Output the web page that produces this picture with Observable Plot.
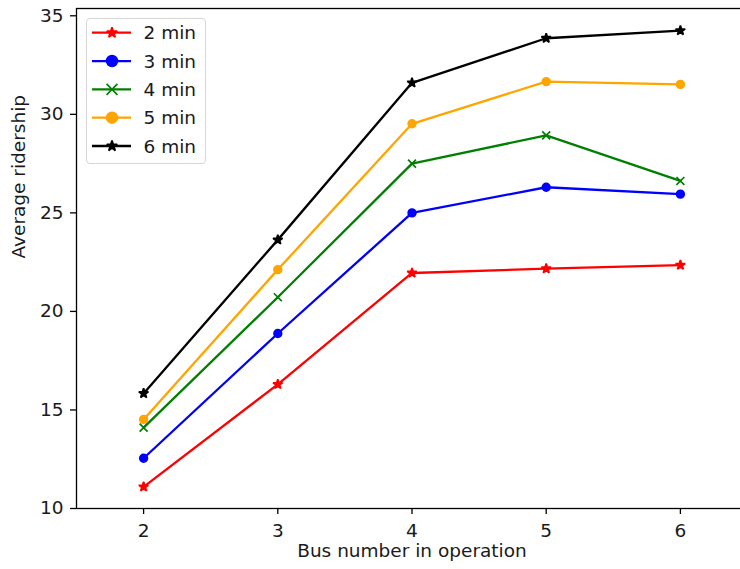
<!DOCTYPE html>
<html>
<head>
<meta charset="utf-8">
<script src="https://cdn.jsdelivr.net/npm/d3@7"></script>
<script src="https://cdn.jsdelivr.net/npm/@observablehq/plot@0.6"></script>
<style>
  html, body { margin: 0; padding: 0; background: #fff; overflow: hidden; }
  #wrap { position: relative; width: 740px; height: 569px; overflow: hidden; font-family: "DejaVu Sans", sans-serif; }
  #chart { width: 760px; }
  #chart svg { max-width: none !important; width: 760px; height: 569px; display: block; }
  #legend { position: absolute; left: 86px; top: 18px; width: 120px; height: 146px; border: 1px solid #d6d6d6; border-radius: 4px; background: rgba(255,255,255,0.8); box-sizing: border-box; }
  #legend svg { position: absolute; left: -1px; top: -1px; }
</style>
</head>
<body>
<div id="wrap"><div id="chart"></div><div id="legend"></div></div>
<script>
// ---- data ----
const buses = [2, 3, 4, 5, 6];
const seriesNames = ["2 min", "3 min", "4 min", "5 min", "6 min"];
const ridership2 = [11.1, 16.3, 21.95, 22.17, 22.35];
const ridership3 = [12.55, 18.88, 25.0, 26.3, 25.95];
const ridership4 = [14.1, 20.72, 27.5, 28.93, 26.62];
const ridership5 = [14.52, 22.12, 29.52, 31.66, 31.52];
const ridership6 = [15.84, 23.63, 31.6, 33.86, 34.25];
const seriesColors = ["red", "blue", "green", "orange", "black"];
const seriesSymbols = ["star", "circle", "times", "circle", "star"];
const xTicks = [2, 3, 4, 5, 6];
const yTicks = [10, 15, 20, 25, 30, 35];
const xLabel = "Bus number in operation";
const yLabel = "Average ridership";

// ---- build table ----
const allSeries = [ridership2, ridership3, ridership4, ridership5, ridership6];
const rows = [];
allSeries.forEach((vals, i) => {
  vals.forEach((v, j) => rows.push({ bus: buses[j], ridership: v, series: seriesNames[i] }));
});
const symbolOf = new Map(seriesNames.map((s, i) => [s, seriesSymbols[i]]));
const radiusFor = { star: 3.3, circle: 5.4, times: 5.0 };
const FS = 18.5;
const TEXT = "#1a1a1a";

const W = 760, H = 569;
const chart = Plot.plot({
  width: W,
  height: H,
  marginLeft: 76,
  marginRight: 13,
  marginTop: 8,
  marginBottom: 61,
  style: { fontFamily: "DejaVu Sans, sans-serif", fontSize: FS + "px", color: TEXT, background: "#fff", maxWidth: "none" },
  x: { domain: [1.5, 6.5] },
  y: { domain: [10, 35.37] },
  color: { domain: seriesNames, range: seriesColors },
  symbol: { domain: seriesNames, range: seriesSymbols },
  marks: [
    Plot.axisX({ ticks: xTicks, tickSize: 6, tickPadding: 9, fontSize: FS, strokeWidth: 1.3, stroke: "black", fill: TEXT, label: null, tickFormat: d => String(d) }),
    Plot.axisY({ ticks: yTicks, tickSize: 6, tickPadding: 7, fontSize: FS, strokeWidth: 1.3, stroke: "black", fill: TEXT, label: null, tickFormat: d => String(d) }),
    Plot.line(rows, { x: "bus", y: "ridership", z: "series", stroke: "series", strokeWidth: 2.3 }),
    Plot.dot(rows, {
      x: "bus", y: "ridership", symbol: "series", fill: "series", stroke: "series", strokeWidth: 1.7,
      strokeLinejoin: "bevel",
      r: d => radiusFor[symbolOf.get(d.series)]
    }),
    Plot.frame({ stroke: "black", strokeWidth: 1.3 }),
    Plot.text([xLabel], { frameAnchor: "bottom", dy: 48, fontSize: FS, fill: TEXT }),
    Plot.text([yLabel], { frameAnchor: "left", dx: -57, rotate: -90, fontSize: FS, fill: TEXT })
  ]
});
chart.style.maxWidth = "none";
document.getElementById("chart").appendChild(chart);

// ---- legend overlay ----
const ox = 86, oy = 18;
const lg = d3.select("#legend").append("svg").attr("width", 122).attr("height", 148);
seriesNames.forEach((name, i) => {
  const cy = 32.7 - oy + i * 28.33;
  const g = lg.append("g");
  g.append("line").attr("x1", 92 - ox).attr("x2", 131 - ox).attr("y1", cy).attr("y2", cy)
    .attr("stroke", seriesColors[i]).attr("stroke-width", 2.3);
  const symName = seriesSymbols[i];
  const sym = { star: d3.symbolStar, circle: d3.symbolCircle, times: d3.symbolTimes }[symName];
  const r = radiusFor[symName];
  g.append("path").attr("d", d3.symbol(sym, Math.PI * r * r)())
    .attr("transform", `translate(${112 - ox},${cy})`)
    .attr("fill", seriesColors[i]).attr("stroke", seriesColors[i]).attr("stroke-width", 1.7)
    .attr("stroke-linejoin", "bevel");
  g.append("text").attr("x", 143.5 - ox).attr("y", cy).attr("dy", "0.36em")
    .attr("font-size", FS).attr("font-family", "DejaVu Sans, sans-serif").attr("fill", TEXT).text(name);
});
</script>
</body>
</html>
